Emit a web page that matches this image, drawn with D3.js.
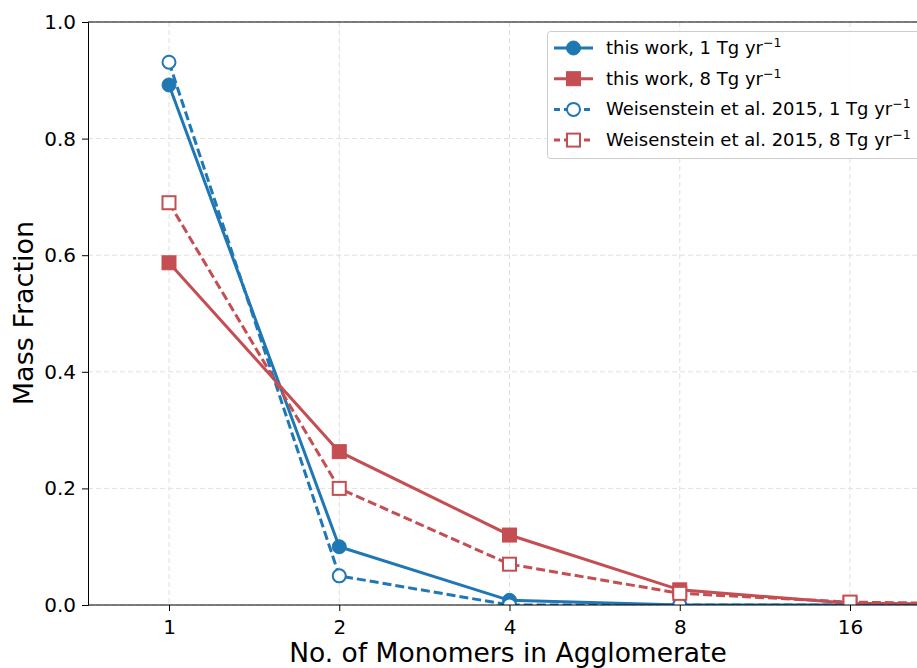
<!DOCTYPE html>
<html>
<head>
<meta charset="utf-8">
<script src="https://cdn.jsdelivr.net/npm/d3@7"></script>
<style>
  body { margin: 0; background: #fff; }
  text { font-family: "DejaVu Sans", sans-serif; }
</style>
</head>
<body>
<div id="chart"></div>
<script>
// monomer counts (x) and mass fractions per series
const monomers = [1, 2, 4, 8, 16, 32];
const thisWork1 = [0.892, 0.100, 0.008, 0.000, 0.000, 0.000];
const thisWork8 = [0.587, 0.263, 0.120, 0.026, 0.003, 0.001];
const weis1 = [0.931, 0.050, 0.000, 0.000, 0.000, 0.000];
const weis8 = [0.690, 0.200, 0.070, 0.020, 0.005, 0.001];
const xTicks = [1, 2, 4, 8, 16];
const yTicks = [0, 0.2, 0.4, 0.6, 0.8, 1.0];

const width = 917, height = 668;
let margin = ({top: 22, right: -40, bottom: 63, left: 88});

const svg = d3.select("#chart").append("svg")
  .attr("width", width).attr("height", height);

let x = d3.scaleLog().base(2)
  .domain([1, 16])
  .range([169, 850]);

let y = d3.scaleLinear()
  .domain([0, 1])
  .range([height - margin.bottom, margin.top]);

const plotRight = width - margin.right;

svg.append("clipPath").attr("id", "clip")
  .append("rect")
    .attr("x", margin.left).attr("y", margin.top)
    .attr("width", plotRight - margin.left)
    .attr("height", y(0) - margin.top);

// grid
const grid = svg.append("g").attr("stroke", "#e0e0e0").attr("stroke-dasharray", "5,3").attr("stroke-width", 1);
xTicks.forEach(t => grid.append("line")
  .attr("x1", x(t)).attr("x2", x(t)).attr("y1", margin.top).attr("y2", y(0)));
yTicks.forEach(t => grid.append("line")
  .attr("x1", margin.left).attr("x2", plotRight).attr("y1", y(t)).attr("y2", y(t)));

let series = [
  {name: "this work, 1 Tg yr", vals: thisWork1, color: "#1f77b4", dash: null, marker: "circle", fill: true},
  {name: "this work, 8 Tg yr", vals: thisWork8, color: "#c44e52", dash: null, marker: "square", fill: true},
  {name: "Weisenstein et al. 2015, 1 Tg yr", vals: weis1, color: "#1f77b4", dash: "9,4", marker: "circle", fill: false},
  {name: "Weisenstein et al. 2015, 8 Tg yr", vals: weis8, color: "#c44e52", dash: "9,4", marker: "square", fill: false}
];

let line = d3.line()
  .x(d => x(d[0]))
  .y(d => y(d[1]));

const plot = svg.append("g").attr("clip-path", "url(#clip)");

function drawMarker(g, s, cx, cy) {
  if (s.marker === "circle") {
    g.append("circle")
      .attr("cx", cx).attr("cy", cy)
      .attr("r", s.fill ? 7 : 6.5)
      .attr("fill", s.fill ? s.color : "#fff")
      .attr("stroke", s.color)
      .attr("stroke-width", s.fill ? 1 : 2);
  } else {
    const half = s.fill ? 7 : 6.5;
    g.append("rect")
      .attr("x", cx - half).attr("y", cy - half)
      .attr("width", half * 2).attr("height", half * 2)
      .attr("fill", s.fill ? s.color : "#fff")
      .attr("stroke", s.color)
      .attr("stroke-width", s.fill ? 1 : 2);
  }
}

series.forEach(function(s) {
  const pts = monomers.map((m, i) => [m, s.vals[i]]);
  const g = plot.append("g");
  g.append("path")
    .datum(pts)
    .attr("fill", "none")
    .attr("stroke", s.color)
    .attr("stroke-width", 3)
    .attr("stroke-dasharray", s.dash)
    .attr("d", line);
  pts.forEach(p => drawMarker(g, s, x(p[0]), y(p[1])));
});

// axes
svg.append("g")
  .attr("transform", `translate(0,${y(0)})`)
  .call(d3.axisBottom(x).tickValues(xTicks).tickFormat(d3.format("d")).tickSizeOuter(0).tickSize(6).tickPadding(9))
  .call(g => g.select(".domain").attr("d", `M${margin.left},0H${plotRight}`))
  .call(g => g.selectAll("text").attr("font-size", "20px").attr("fill", "#000"));

svg.append("g")
  .attr("transform", `translate(${margin.left},0)`)
  .call(d3.axisLeft(y).tickValues(yTicks).tickFormat(d3.format(".1f")).tickSizeOuter(0).tickSize(6).tickPadding(6))
  .call(g => g.selectAll("text").attr("font-size", "20px").attr("fill", "#000"));

svg.append("line")
  .attr("x1", margin.left).attr("x2", plotRight)
  .attr("y1", margin.top).attr("y2", margin.top)
  .attr("stroke", "#000");

// axis labels
svg.append("text")
  .attr("x", 508).attr("y", 662)
  .attr("font-size", "26.5px")
  .attr("text-anchor", "middle")
  .text("No. of Monomers in Agglomerate");

svg.append("text")
  .attr("transform", "translate(33,313) rotate(-90)")
  .attr("font-size", "27px")
  .attr("text-anchor", "middle")
  .text("Mass Fraction");

// legend
const legend = svg.append("g");
legend.append("rect")
  .attr("x", 547.5).attr("y", 31.5)
  .attr("width", 400).attr("height", 127)
  .attr("rx", 3)
  .attr("fill", "#fff").attr("fill-opacity", 0.85)
  .attr("stroke", "#ccc");

series.forEach(function(s, i) {
  const ly = 48 + i * 30.7;
  legend.append("line")
    .attr("x1", 554).attr("x2", 593)
    .attr("y1", ly).attr("y2", ly)
    .attr("stroke", s.color).attr("stroke-width", 3)
    .attr("stroke-dasharray", s.dash ? "6,4" : null);
  drawMarker(legend, s, 573.5, ly);
  const t = legend.append("text")
    .attr("x", 606).attr("y", ly + 6)
    .attr("font-size", "18px");
  t.append("tspan").text(s.name);
  t.append("tspan").attr("dy", -7).attr("font-size", "12.5px").text("\u22121");
});
</script>
</body>
</html>
